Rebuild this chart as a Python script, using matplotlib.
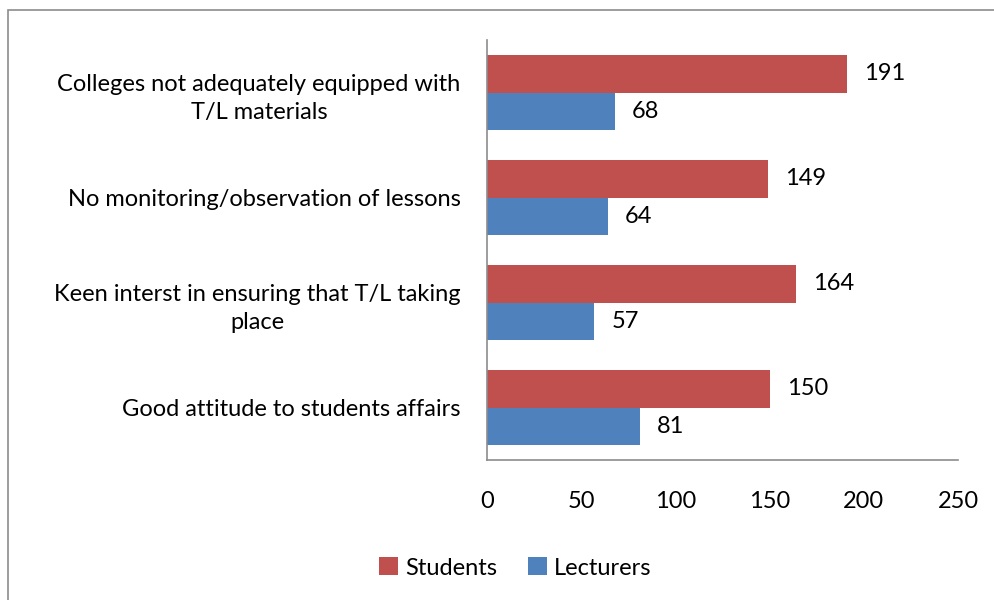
import matplotlib.pyplot as plt
import numpy as np
from matplotlib.patches import Rectangle

categories = [
    "Colleges not adequately equipped with\nT/L materials",
    "No monitoring/observation of lessons",
    "Keen interst in ensuring that T/L taking\nplace",
    "Good attitude to students affairs",
]
students = [191, 149, 164, 150]
lecturers = [68, 64, 57, 81]
xticks = [0, 50, 100, 150, 200, 250]

RED = "#C0504D"
BLUE = "#4F81BD"
FS = 17
plt.rcParams["font.family"] = ["Lato", "DejaVu Sans"]

fig = plt.figure(figsize=(9.95, 6), dpi=100)
ax = fig.add_axes([0.4894, 0.2333, 0.4734, 0.7])

y = np.arange(len(categories))[::-1]
h = 0.357
ax.barh(y + h / 2, students, height=h, color=RED, label="Students")
ax.barh(y - h / 2, lecturers, height=h, color=BLUE, label="Lecturers")

for yi, s, l in zip(y, students, lecturers):
    ax.text(s + 9, yi + h / 2, str(s), va="center", ha="left", fontsize=FS)
    ax.text(l + 9, yi - h / 2, str(l), va="center", ha="left", fontsize=FS)

ax.set_xlim(0, 250)
ax.set_ylim(-0.5, len(categories) - 0.5)
ax.set_xticks(xticks)
ax.set_xticklabels([str(t) for t in xticks], fontsize=FS)
ax.set_yticks(y)
ax.set_yticklabels(categories, fontsize=FS, multialignment="center", linespacing=1.45)
ax.tick_params(axis="both", length=0)
ax.tick_params(axis="x", pad=22)
ax.tick_params(axis="y", pad=19)
for side in ("top", "right"):
    ax.spines[side].set_visible(False)
for side in ("left", "bottom"):
    ax.spines[side].set_color("#8c8c8c")
    ax.spines[side].set_linewidth(1.2)

fig.legend(loc="center", bbox_to_anchor=(0.518, 0.0533), ncol=2, frameon=False,
           fontsize=FS, handlelength=0.8, handleheight=0.8, handletextpad=0.3,
           columnspacing=1.3)

fig.patches.append(Rectangle((8 / 995, -0.1), 1.2, 1 - 10 / 600 + 0.1,
                             transform=fig.transFigure, fill=False,
                             edgecolor="#8c8c8c", linewidth=1.2))

fig.savefig("out.png", dpi=100)
